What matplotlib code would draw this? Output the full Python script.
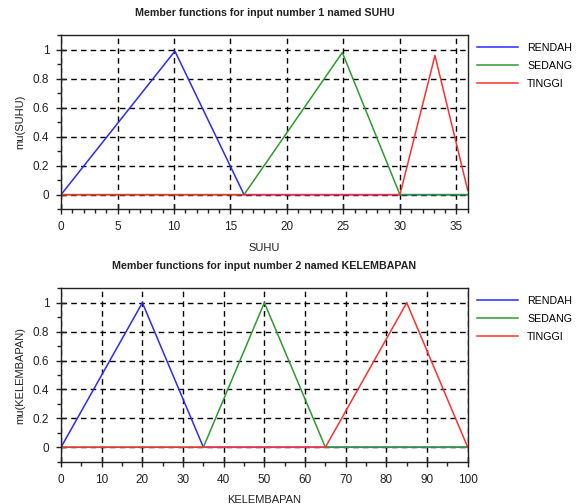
import matplotlib
matplotlib.use("Agg")
import matplotlib.pyplot as plt
from matplotlib.ticker import MultipleLocator

plt.rcParams['font.family'] = ['Liberation Sans', 'DejaVu Sans']

# input 1: SUHU (vertices)
suhu_rendah_x = [0, 10.08, 16.2, 36]
suhu_rendah_y = [0, 0.99, 0, 0]
suhu_sedang_x = [0, 16.2, 24.9, 30.0, 36]
suhu_sedang_y = [0, 0, 0.98, 0, 0]
suhu_tinggi_x = [0, 30.0, 33.1, 36]
suhu_tinggi_y = [0, 0, 0.96, 0.03]

# input 2: KELEMBAPAN
kel_rendah_x = [0, 20, 35, 100]
kel_rendah_y = [0, 1, 0, 0]
kel_sedang_x = [0, 35, 50, 65, 100]
kel_sedang_y = [0, 0, 1, 0, 0]
kel_tinggi_x = [0, 65, 85, 100]
kel_tinggi_y = [0, 0, 1, 0]

labels = ['RENDAH', 'SEDANG', 'TINGGI']
colors = ['#2a2aff', '#2f9a2f', '#ff3030']


def draw_panel(ax, series, xmax, xmajor, xminor, title, xlabel, ylabel):
    for (xs, ys), lab, c in zip(series, labels, colors):
        ax.plot(xs, ys, color=c, lw=1.1, label=lab)
    ax.set_xlim(0, xmax)
    ax.set_ylim(-0.1, 1.1)
    ax.xaxis.set_major_locator(MultipleLocator(xmajor))
    ax.xaxis.set_minor_locator(MultipleLocator(xminor))
    ax.yaxis.set_minor_locator(MultipleLocator(0.1))
    ax.set_yticks([0, 0.2, 0.4, 0.6, 0.8, 1.0])
    ax.set_yticklabels(['0', '0.2', '0.4', '0.6', '0.8', '1'])
    ax.grid(True, which='major', color='black', ls=(0, (4, 3)), lw=1.0)
    ax.tick_params(which='major', direction='inout', length=7, width=1,
                   labelsize=8.5, pad=5, top=False, right=False,
                   color='#222222', labelcolor='#222222')
    ax.tick_params(which='minor', direction='out', length=3, width=1,
                   top=False, right=False, color='#222222')
    for sp in ax.spines.values():
        sp.set_color('#222222')
        sp.set_linewidth(1.0)
    ax.set_title(title, fontsize=7.7, fontweight='bold', color='#222222', pad=14)
    ax.set_xlabel(xlabel, fontsize=8, labelpad=7, color='#222222')
    ax.set_ylabel(ylabel, fontsize=8, labelpad=5, color='#222222')
    ax.legend(loc='upper left', bbox_to_anchor=(1.005, 1.0), frameon=False,
              fontsize=7.7, handlelength=3.8, handletextpad=0.85,
              labelspacing=0.75, borderaxespad=0.3)


fig = plt.figure(figsize=(5.84, 5.04), dpi=100)
ax1 = fig.add_axes([0.1045, 0.585, 0.6964, 0.3452])
ax2 = fig.add_axes([0.1045, 0.0839, 0.6964, 0.3441])

draw_panel(ax1,
           [(suhu_rendah_x, suhu_rendah_y), (suhu_sedang_x, suhu_sedang_y),
            (suhu_tinggi_x, suhu_tinggi_y)],
           36, 5, 1, 'Member functions for input number 1 named SUHU',
           'SUHU', 'mu(SUHU)')
draw_panel(ax2,
           [(kel_rendah_x, kel_rendah_y), (kel_sedang_x, kel_sedang_y),
            (kel_tinggi_x, kel_tinggi_y)],
           100, 10, 5, 'Member functions for input number 2 named KELEMBAPAN',
           'KELEMBAPAN', 'mu(KELEMBAPAN)')

fig.savefig('out.png', dpi=100)
